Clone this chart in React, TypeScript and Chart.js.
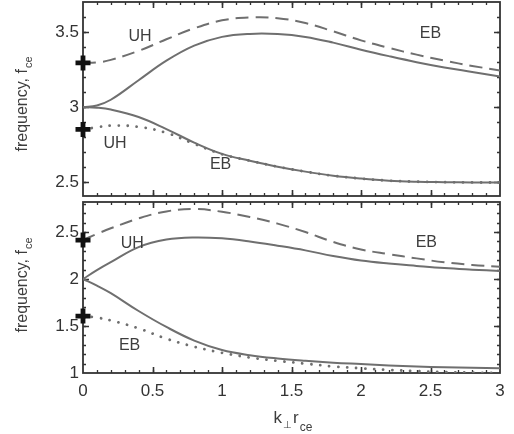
import React, { useEffect, useRef } from "react";
import { Chart, registerables } from "chart.js";

Chart.register(...registerables);

// ---------- data ----------
const kValues = [0, 0.1, 0.2, 0.4, 0.6, 0.8, 1.0, 1.2, 1.4, 1.6, 1.8, 2.0, 2.2, 2.4, 2.6, 2.8, 3.0];

// top panel
const topDashed = [3.295, 3.298, 3.315, 3.375, 3.452, 3.525, 3.578, 3.597, 3.592, 3.56, 3.505, 3.445, 3.395, 3.35, 3.31, 3.275, 3.245];
const topSolidUpper = [3.0, 3.012, 3.05, 3.18, 3.31, 3.41, 3.468, 3.488, 3.487, 3.468, 3.43, 3.383, 3.34, 3.30, 3.265, 3.235, 3.205];
const topSolidLower = [3.0, 2.997, 2.985, 2.935, 2.855, 2.765, 2.69, 2.645, 2.605, 2.572, 2.545, 2.526, 2.512, 2.505, 2.502, 2.5, 2.5];
const topDotted = [2.853, 2.867, 2.878, 2.87, 2.83, 2.757, 2.688, 2.645, 2.605, 2.572, 2.545, 2.526, 2.512, 2.505, 2.502, 2.5, 2.5];
const topCrossK = [0, 0];
const topCrossF = [3.295, 2.853];

// bottom panel
const botDashed = [2.415, 2.48, 2.54, 2.645, 2.72, 2.745, 2.716, 2.66, 2.59, 2.50, 2.395, 2.315, 2.265, 2.22, 2.178, 2.15, 2.13];
const botSolidUpper = [2.0, 2.095, 2.18, 2.34, 2.42, 2.443, 2.433, 2.40, 2.355, 2.305, 2.245, 2.197, 2.165, 2.14, 2.117, 2.10, 2.085];
const botSolidLower = [2.0, 1.93, 1.85, 1.66, 1.49, 1.345, 1.245, 1.19, 1.155, 1.13, 1.11, 1.095, 1.08, 1.068, 1.06, 1.055, 1.05];
const botDotted = [1.606, 1.59, 1.56, 1.475, 1.365, 1.28, 1.215, 1.165, 1.13, 1.10, 1.07, 1.05, 1.033, 1.02, 1.01, 1.004, 1.0];
const botCrossK = [0, 0];
const botCrossF = [2.415, 1.606];

// tick values
const xMajorTicks = [0, 0.5, 1, 1.5, 2, 2.5, 3];
const topYTicks = [2.5, 3, 3.5];
const botYTicks = [1, 1.5, 2, 2.5];

// annotation labels
const topLabelText = ["UH", "EB", "UH", "EB"];
const topLabelK = [0.41, 2.5, 0.23, 0.99];
const topLabelF = [3.473, 3.49, 2.757, 2.62];
const botLabelText = ["UH", "EB", "EB"];
const botLabelK = [0.355, 2.47, 0.335];
const botLabelF = [2.372, 2.388, 1.287];

// ---------- style ----------
const FONT = "'Liberation Sans', Arial, Helvetica, sans-serif";
const LINE_COLOR = "#6f6f6f";
const FRAME_COLOR = "#333333";
const TEXT_COLOR = "#3d3d3d";

function range(a: number, b: number, step: number) {
  const out: number[] = [];
  for (let v = a; v <= b + 1e-9; v += step) out.push(Math.round(v * 1000) / 1000);
  return out;
}

function lineDataset(values: number[], style: "solid" | "dashed" | "dotted") {
  return {
    type: "line" as const,
    data: kValues.map((k, i) => ({ x: k, y: values[i] })),
    borderColor: LINE_COLOR,
    borderWidth: style === "dotted" ? 2.8 : 2,
    borderDash: style === "dashed" ? [13, 7] : style === "dotted" ? [0.01, 9] : [],
    borderCapStyle: style === "dotted" ? ("round" as const) : ("butt" as const),
    pointRadius: 0,
    tension: 0.4,
    fill: false,
  };
}

function crossDataset(ks: number[], fs: number[]) {
  return {
    type: "line" as const,
    data: ks.map((k, i) => ({ x: k, y: fs[i] })),
    showLine: false,
    pointStyle: "cross" as const,
    pointRadius: 7.5,
    pointBorderWidth: 4.8,
    pointBorderColor: "#111",
    pointBackgroundColor: "#111",
    clip: false as any,
  };
}

type PanelCfg = {
  yMinor: number[];
  yMajor: number[];
  labels: { text: string[]; k: number[]; f: number[] };
  yTitleCenter: number;
  xTitle: boolean;
};

function panelPlugin(cfg: PanelCfg) {
  return {
    id: "panelDecor",
    beforeDatasetsDraw(chart: any) {
      const { ctx, chartArea: a, scales } = chart;
      const xs = scales.x;
      const ys = scales.y;
      ctx.save();
      ctx.strokeStyle = FRAME_COLOR;
      const drawX = (vals: number[], len: number) => {
        for (const v of vals) {
          const p = Math.round(xs.getPixelForValue(v)) + 0.5;
          if (p < a.left + 1 || p > a.right - 1) continue;
          ctx.beginPath();
          ctx.moveTo(p, a.bottom);
          ctx.lineTo(p, a.bottom - len);
          ctx.moveTo(p, a.top);
          ctx.lineTo(p, a.top + len);
          ctx.stroke();
        }
      };
      const drawY = (vals: number[], len: number) => {
        for (const v of vals) {
          const p = Math.round(ys.getPixelForValue(v)) + 0.5;
          if (p < a.top + 1 || p > a.bottom - 1) continue;
          ctx.beginPath();
          ctx.moveTo(a.left, p);
          ctx.lineTo(a.left + len, p);
          ctx.moveTo(a.right, p);
          ctx.lineTo(a.right - len, p);
          ctx.stroke();
        }
      };
      ctx.lineWidth = 1.3;
      drawX(range(0, 3, 0.1), 3);
      drawY(cfg.yMinor, 3);
      ctx.lineWidth = 1.6;
      drawX(xMajorTicks, 6);
      drawY(cfg.yMajor, 6);
      ctx.lineWidth = 1.8;
      ctx.strokeRect(a.left, a.top, a.right - a.left, a.bottom - a.top);
      ctx.restore();
    },
    afterDraw(chart: any) {
      const { ctx, chartArea: a, scales } = chart;
      const xs = scales.x;
      const ys = scales.y;
      ctx.save();
      ctx.fillStyle = TEXT_COLOR;
      ctx.font = `16px ${FONT}`;
      ctx.textAlign = "center";
      ctx.textBaseline = "middle";
      cfg.labels.text.forEach((t, i) => {
        ctx.fillText(t, xs.getPixelForValue(cfg.labels.k[i]), ys.getPixelForValue(cfg.labels.f[i]));
      });

      const main = "frequency, f";
      const sub = "ce";
      ctx.font = `16px ${FONT}`;
      const wMain = ctx.measureText(main).width;
      ctx.font = `11px ${FONT}`;
      const wSub = ctx.measureText(sub).width;
      const total = wMain + wSub + 1;
      ctx.translate(27, cfg.yTitleCenter);
      ctx.rotate(-Math.PI / 2);
      ctx.textAlign = "left";
      ctx.textBaseline = "alphabetic";
      ctx.font = `16px ${FONT}`;
      ctx.fillText(main, -total / 2, 0);
      ctx.font = `11px ${FONT}`;
      ctx.fillText(sub, -total / 2 + wMain + 1, 5);
      ctx.restore();

      if (cfg.xTitle) {
        ctx.save();
        ctx.fillStyle = TEXT_COLOR;
        ctx.textBaseline = "alphabetic";
        ctx.textAlign = "left";
        const parts: [string, number, number][] = [
          ["k", 17, 0],
          ["\u22a5", 10, 5],
          ["r", 17, 0],
          ["ce", 12, 8],
        ];
        let w = 0;
        for (const [t, s] of parts) {
          ctx.font = `${s}px ${FONT}`;
          w += ctx.measureText(t).width + 1;
        }
        let x = (a.left + a.right) / 2 - w / 2 + 2;
        const base = 223;
        for (const [t, s, dy] of parts) {
          ctx.font = `${s}px ${FONT}`;
          ctx.fillText(t, x, base + dy);
          x += ctx.measureText(t).width + 1;
        }
        ctx.restore();
      }
    },
  };
}

function makeScales(yMin: number, yMax: number, yTicks: number[], showX: boolean, xHeight: number) {
  return {
    x: {
      type: "linear" as const,
      min: 0,
      max: 3,
      display: showX,
      grid: { display: false, drawTicks: false },
      border: { display: false },
      afterBuildTicks: (s: any) => {
        s.ticks = xMajorTicks.map((v) => ({ value: v }));
      },
      afterFit: (s: any) => {
        s.height = xHeight;
        s.paddingLeft = 0;
        s.paddingRight = 0;
      },
      ticks: {
        padding: 8,
        color: "#333",
        font: { size: 17, family: FONT },
        maxRotation: 0,
        autoSkip: false,
        callback: (v: any) => String(v),
      },
    },
    y: {
      type: "linear" as const,
      min: yMin,
      max: yMax,
      grid: { display: false, drawTicks: false },
      border: { display: false },
      afterBuildTicks: (s: any) => {
        s.ticks = yTicks.map((v) => ({ value: v }));
      },
      afterFit: (s: any) => {
        s.width = 83;
        s.paddingTop = 0;
        s.paddingBottom = 0;
      },
      ticks: {
        padding: 4,
        color: "#333",
        font: { size: 17, family: FONT },
        autoSkip: false,
        callback: (v: any) => String(v),
      },
    },
  };
}

function Panel(props: {
  top: number;
  height: number;
  datasets: any[];
  yMin: number;
  yMax: number;
  yTicks: number[];
  cfg: PanelCfg;
  showX: boolean;
  xHeight: number;
  padBottom: number;
}) {
  const ref = useRef<HTMLCanvasElement | null>(null);
  useEffect(() => {
    if (!ref.current) return;
    const chart = new Chart(ref.current, {
      type: "line",
      data: { datasets: props.datasets },
      options: {
        responsive: false,
        animation: false,
        devicePixelRatio: 1,
        layout: { autoPadding: false, padding: { top: 2, right: 14, bottom: props.padBottom, left: 0 } },
        plugins: { legend: { display: false }, tooltip: { enabled: false } },
        scales: makeScales(props.yMin, props.yMax, props.yTicks, props.showX, props.xHeight) as any,
      },
      plugins: [panelPlugin(props.cfg)],
    } as any);
    return () => chart.destroy();
  }, []);
  return (
    <canvas
      ref={ref}
      width={514}
      height={props.height}
      style={{ position: "absolute", left: 0, top: props.top, width: 514, height: props.height, display: "block" }}
    />
  );
}

export default function App() {
  Chart.defaults.font.family = FONT;
  const topDatasets = [
    crossDataset(topCrossK, topCrossF),
    lineDataset(topDashed, "dashed"),
    lineDataset(topSolidUpper, "solid"),
    lineDataset(topSolidLower, "solid"),
    lineDataset(topDotted, "dotted"),
  ];
  const botDatasets = [
    crossDataset(botCrossK, botCrossF),
    lineDataset(botDashed, "dashed"),
    lineDataset(botSolidUpper, "solid"),
    lineDataset(botSolidLower, "solid"),
    lineDataset(botDotted, "dotted"),
  ];
  return (
    <div style={{ position: "fixed", left: 0, top: 0, width: 514, height: 434, background: "#fff", overflow: "hidden" }}>
      <Panel
        top={0}
        height={200}
        datasets={topDatasets}
        yMin={2.41}
        yMax={3.7}
        yTicks={topYTicks}
        showX={false}
        xHeight={0}
        padBottom={4}
        cfg={{
          yMinor: range(2.5, 3.7, 0.1),
          yMajor: topYTicks,
          labels: { text: topLabelText, k: topLabelK, f: topLabelF },
          yTitleCenter: 104,
          xTitle: false,
        }}
      />
      <Panel
        top={200}
        height={234}
        datasets={botDatasets}
        yMin={1.0}
        yMax={2.82}
        yTicks={botYTicks}
        showX={true}
        xHeight={61}
        padBottom={0}
        cfg={{
          yMinor: range(1.0, 2.8, 0.1),
          yMajor: botYTicks,
          labels: { text: botLabelText, k: botLabelK, f: botLabelF },
          yTitleCenter: 85,
          xTitle: true,
        }}
      />
    </div>
  );
}
